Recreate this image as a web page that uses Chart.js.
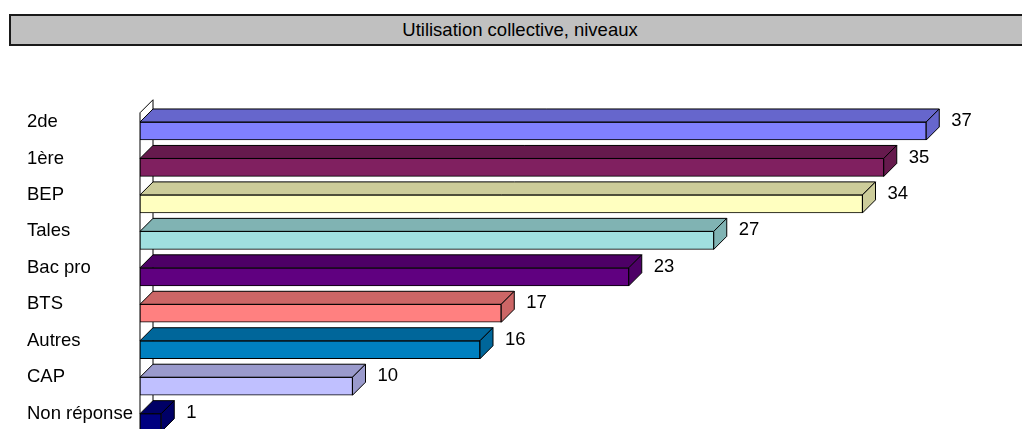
<!DOCTYPE html>
<html>
<head>
<meta charset="utf-8">
<script src="https://cdn.jsdelivr.net/npm/chart.js@4.4.1/dist/chart.umd.min.js"></script>
<style>
    html, body { margin: 0; padding: 0; background: #fff; overflow: hidden; }
    body { width: 1022px; height: 429px; position: relative; }
    .title-box {
        position: absolute; left: 9px; top: 14px; width: 1018px; height: 28px;
        background: #c0c0c0; border: 2px solid #1a1a1a;
        font: 18.5px "Liberation Sans", Arial, sans-serif; color: #000;
        text-align: center; line-height: 28px;
    }
    .chart-wrap { position: absolute; left: 0; top: 0; width: 1022px; height: 455px; }
</style>
</head>
<body>
<div class="title-box">Utilisation collective, niveaux</div>
<div class="chart-wrap"><canvas id="niveauxChart"></canvas></div>
<script>
// catégories et valeurs
const niveaux = ['2de', '1ère', 'BEP', 'Tales', 'Bac pro', 'BTS', 'Autres', 'CAP', 'Non réponse'];
const effectifs = [37, 35, 34, 27, 23, 17, 16, 10, 1];

// couleurs face avant / dessus
const faceColors = ['#8080FF', '#802060', '#FFFFC0', '#A0E0E0', '#600080', '#FF8080', '#0080C0', '#C0C0FF', '#000080'];
const topColors = ['#6666CC', '#661A4D', '#CCCC9A', '#80B3B3', '#4D0066', '#CC6666', '#00669A', '#9A9ACC', '#000066'];

const DEPTH = 13;
const FONT = '18.5px "Liberation Sans", Arial, sans-serif';

// plugin pour le mur et l'effet 3D
const bars3d = {
    id: 'bars3d',
    beforeDatasetsDraw(chart) {
        const { ctx, chartArea } = chart;
        const x0 = chart.scales.x.getPixelForValue(0);
        ctx.save();
        ctx.fillStyle = '#fff';
        ctx.strokeStyle = '#000';
        ctx.lineWidth = 1;
        ctx.beginPath();
        ctx.moveTo(x0, chartArea.bottom);
        ctx.lineTo(x0, chartArea.top);
        ctx.lineTo(x0 + DEPTH, chartArea.top - DEPTH);
        ctx.lineTo(x0 + DEPTH, chartArea.bottom - DEPTH);
        ctx.closePath();
        ctx.fill();
        ctx.stroke();
        ctx.restore();
    },
    afterDatasetsDraw(chart) {
        const { ctx } = chart;
        const meta = chart.getDatasetMeta(0);
        ctx.save();
        ctx.lineWidth = 1;
        ctx.strokeStyle = '#000';
        meta.data.forEach((bar, i) => {
            const p = bar.getProps(['x', 'y', 'base', 'height'], true);
            const yTop = p.y - p.height / 2;
            const yBot = p.y + p.height / 2;
            ctx.fillStyle = topColors[i];
            // dessus
            ctx.beginPath();
            ctx.moveTo(p.base, yTop);
            ctx.lineTo(p.base + DEPTH, yTop - DEPTH);
            ctx.lineTo(p.x + DEPTH, yTop - DEPTH);
            ctx.lineTo(p.x, yTop);
            ctx.closePath();
            ctx.fill();
            ctx.stroke();
            // côté
            ctx.beginPath();
            ctx.moveTo(p.x, yTop);
            ctx.lineTo(p.x + DEPTH, yTop - DEPTH);
            ctx.lineTo(p.x + DEPTH, yBot - DEPTH);
            ctx.lineTo(p.x, yBot);
            ctx.closePath();
            ctx.fill();
            ctx.stroke();
            // valeur
            ctx.fillStyle = '#000';
            ctx.font = FONT;
            ctx.textAlign = 'left';
            ctx.textBaseline = 'middle';
            ctx.fillText(String(effectifs[i]), p.x + DEPTH + 12, p.y - 10);
        });
        ctx.restore();
    }
};

const ctx = document.getElementById('niveauxChart');
new Chart(ctx, {
    type: 'bar',
    data: {
        labels: niveaux,
        datasets: [{
            data: effectifs,
            backgroundColor: faceColors,
            borderColor: '#000',
            borderWidth: 1,
            borderSkipped: false,
            barThickness: 18
        }]
    },
    options: {
        indexAxis: 'y',
        responsive: true,
        maintainAspectRatio: false,
        animation: false,
        layout: {
            padding: { left: 27, right: 32, top: 112.75, bottom: 13.75 }
        },
        plugins: {
            legend: { display: false },
            tooltip: { enabled: false }
        },
        scales: {
            x: {
                display: false,
                min: 0,
                max: 40
            },
            y: {
                grid: { display: false },
                border: { display: false },
                afterFit(scale) { scale.width = 113; },
                ticks: {
                    crossAlign: 'far',
                    labelOffset: -9,
                    color: '#000',
                    font: { family: '"Liberation Sans", Arial, sans-serif', size: 18.5 }
                }
            }
        }
    },
    plugins: [bars3d]
});
</script>
</body>
</html>
